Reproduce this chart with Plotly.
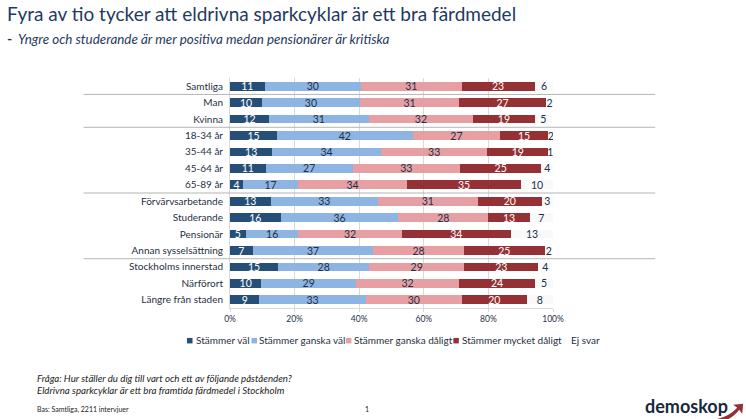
#!/usr/bin/env python3
"""Stacked bars: opinion on e-scooters, by group."""

import plotly.graph_objects as go

WIDTH = 746
HEIGHT = 419
LEFT = 229.5
RIGHT = 552.7
TOP = 77.5
BOTTOM = 308

FONT = 'Lato'
INK = '#1F2F45'
NAVY = '#1F3A5F'

groups = [
    'Samtliga', 'Man', 'Kvinna', '18-34 år', '35-44 år', '45-64 år', '65-89 år',
    'Förvärvsarbetande', 'Studerande', 'Pensionär', 'Annan sysselsättning',
    'Stockholms innerstad', 'Närförort', 'Längre från staden',
]

stammer_val = [10.7, 9.9, 12.1, 14.6, 13.1, 11.0, 4.0, 12.6, 15.7, 4.9, 7.0, 14.9, 9.7, 9.1]
stammer_ganska_val = [29.9, 30.3, 30.8, 41.9, 33.6, 27.0, 17.1, 33.2, 36.4, 16.3, 37.4, 28.2, 29.3, 32.9]
stammer_ganska_daligt = [31.1, 30.8, 32.4, 27.2, 33.0, 33.2, 33.7, 30.9, 27.9, 31.9, 27.9, 29.4, 31.9, 29.8]
stammer_mycket_daligt = [22.6, 26.8, 19.0, 14.7, 18.8, 25.2, 35.3, 19.8, 12.8, 33.9, 25.2, 23.0, 23.6, 20.1]
ej_svar = [5.9, 2.2, 5.4, 1.8, 1.3, 3.6, 9.9, 3.4, 7.2, 13.0, 2.4, 4.3, 5.4, 8.1]

series = [
    ('Stämmer väl', stammer_val, '#264F78', 'white', 186.5, 193),
    ('Stämmer ganska väl', stammer_ganska_val, '#8DB4E2', INK, 251, 257),
    ('Stämmer ganska dåligt', stammer_ganska_daligt, '#E6A0A3', INK, 345.5, 352),
    ('Stämmer mycket dåligt', stammer_mycket_daligt, '#953035', 'white', 453, 459.5),
    ('Ej svar', ej_svar, '#F8F9FB', INK, 561.5, 569),
]

separators = [0.5, 2.5, 6.5, 10.5]


def px(x):
    """Page pixel to paper x."""
    return (x - LEFT) / (RIGHT - LEFT)


def py(y):
    """Page pixel to paper y."""
    return (BOTTOM - y) / (BOTTOM - TOP)


def note(x, y, text, size, color=INK, anchor='left'):
    fig.add_annotation(
        x=px(x), y=py(y), xref='paper', yref='paper', text=text, showarrow=False,
        xanchor=anchor, yanchor='middle', align='left',
        font=dict(family=FONT, size=size, color=color),
    )


fig = go.Figure()

for name, values, color, label_color, _, _ in series:
    fig.add_trace(go.Bar(
        y=groups,
        x=values,
        name=name,
        orientation='h',
        marker=dict(color=color, line=dict(width=0)),
        text=[f'{v:.0f}' for v in values],
        textposition='inside',
        insidetextanchor='middle',
        textangle=0,
        constraintext='none',
        textfont=dict(family=FONT, size=10.5, color=label_color),
    ))

# Group separators run out past the plot on both sides
for pos in separators:
    fig.add_shape(type='line', xref='paper', yref='y', x0=px(83), x1=px(655),
                  y0=pos, y1=pos, line=dict(color='#B5B5B5', width=1))

# Legend is laid out by hand, the built-in one cannot get this tight
for name, _, color, _, mark_x, text_x in series:
    fig.add_shape(type='rect', xref='paper', yref='paper',
                  x0=px(mark_x), x1=px(mark_x + 5.5), y0=py(343.5), y1=py(338),
                  fillcolor=color, line=dict(width=0))
    note(text_x, 340.5, name, 10)

note(4, 13, 'Fyra av tio tycker att eldrivna sparkcyklar är ett bra färdmedel', 19, NAVY)
note(4, 38, '<b>-</b>', 14, NAVY)
note(15, 38, '<i>Yngre och studerande är mer positiva medan pensionärer är kritiska</i>', 13.4, NAVY)
note(34, 378, '<i>Fråga: Hur ställer du dig till vart och ett av följande påståenden?</i>', 9.7, '#222222')
note(34, 390, '<i>Eldrivna sparkcyklar är ett bra framtida färdmedel i Stockholm</i>', 9.7, '#222222')
note(34, 409.5, 'Bas: Samtliga, 2211 intervjuer', 7, '#222222')
note(367, 409.5, '1', 7, '#222222', anchor='center')
note(643, 406, '<b>demoskop</b>', 18, '#17293D')

# Logo swoosh and arrow head
fig.add_shape(
    type='path', xref='paper', yref='paper', fillcolor='#953035', line=dict(width=0),
    path=(f'M {px(695)} {py(419)} Q {px(722)} {py(424)} {px(737)} {py(408)} '
          f'L {px(733)} {py(405)} L {px(743)} {py(404)} L {px(742)} {py(414)} L {px(739)} {py(410)} '
          f'Q {px(725)} {py(429)} {px(695)} {py(419)} Z'),
)

fig.update_layout(
    barmode='stack',
    bargap=0.47,
    width=WIDTH,
    height=HEIGHT,
    autosize=False,
    showlegend=False,
    margin=dict(l=LEFT, r=WIDTH - RIGHT, t=TOP, b=HEIGHT - BOTTOM, pad=0),
    paper_bgcolor='white',
    plot_bgcolor='white',
    font=dict(family=FONT, color=INK),
)
fig.update_xaxes(
    range=[0, 100], tickvals=[0, 20, 40, 60, 80, 100], ticktext=['0%', '20%', '40%', '60%', '80%', '100%'],
    showgrid=True, gridcolor='#D9D9D9', gridwidth=1, zeroline=False,
    showline=True, linecolor='#D9D9D9', ticks='outside', ticklen=3, tickcolor='#D9D9D9',
    tickfont=dict(family=FONT, size=8.5, color=INK),
)
fig.update_yaxes(
    autorange='reversed', showgrid=False, zeroline=False, showline=True, linecolor='#D9D9D9',
    ticks='', ticklabelstandoff=4, tickfont=dict(family=FONT, size=10, color=INK),
)

fig.write_html('out.html', config={'displayModeBar': False},
               post_script="document.body.style.margin='0';")
